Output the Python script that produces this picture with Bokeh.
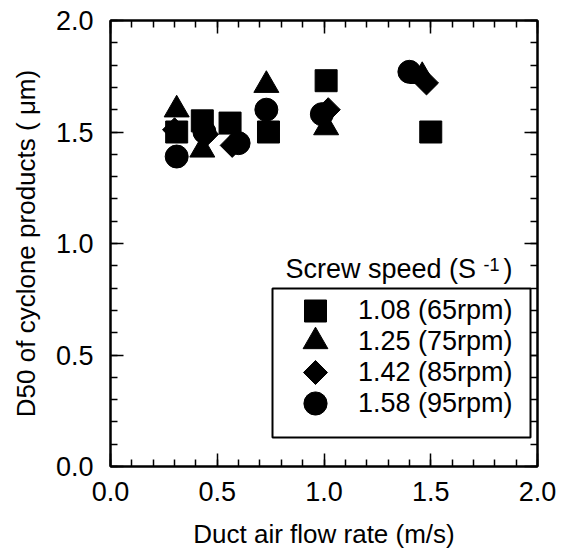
import math
from bokeh.plotting import figure
from bokeh.models import (LinearAxis, SingleIntervalTicker, Range1d, Legend,
                          LegendItem, Label, BoxAnnotation, PrintfTickFormatter)
from bokeh.embed import file_html
from bokeh.resources import INLINE

# ---------------- data ----------------
x_label = "Duct air flow rate (m/s)"
y_label = "D50 of cyclone products ( \u03bcm)"
legend_title = "Screw speed (S"
legend_title_sup = "-1"
legend_title_end = ")"
series_names = ["1.08 (65rpm)", "1.25 (75rpm)", "1.42 (85rpm)", "1.58 (95rpm)"]

sq_x = [0.31, 0.43, 0.56, 0.74, 1.01, 1.50]
sq_y = [1.50, 1.55, 1.54, 1.50, 1.73, 1.50]

tr_x = [0.31, 0.43, 0.73, 1.01, 1.46]
tr_y = [1.60, 1.42, 1.71, 1.52, 1.75]

di_x = [0.30, 0.45, 0.57, 1.02, 1.48]
di_y = [1.51, 1.49, 1.44, 1.60, 1.72]

ci_x = [0.31, 0.44, 0.60, 0.73, 0.99, 1.40]
ci_y = [1.39, 1.50, 1.45, 1.60, 1.58, 1.77]

x_range = (0.0, 2.0)
y_range = (0.0, 2.0)

# ---------------- layout ----------------
FONT = "Liberation Sans"
FW, FH = 427, 446          # frame size in px
FX0, FY1 = 110, 466        # frame left / bottom in page px
SX = FW / (x_range[1] - x_range[0])
SY = FH / (y_range[1] - y_range[0])


def dx(px):
    return x_range[0] + (px - FX0) / SX


def dy(py):
    return y_range[0] + (FY1 - py) / SY


p = figure(frame_width=FW, frame_height=FH,
           x_range=Range1d(*x_range), y_range=Range1d(*y_range),
           output_backend="svg", toolbar_location=None,
           min_border_left=110, min_border_right=25,
           min_border_top=20, min_border_bottom=86,
           x_axis_label=x_label, y_axis_label=y_label)
p.background_fill_color = "white"
p.border_fill_color = "white"
p.outline_line_color = "black"
p.outline_line_width = 2
p.xgrid.visible = False
p.ygrid.visible = False


def style_axis(ax, labels=True):
    ax.ticker = SingleIntervalTicker(interval=0.5, num_minor_ticks=5)
    ax.axis_line_color = "black"
    ax.axis_line_width = 2
    ax.major_tick_in = 13
    ax.major_tick_out = 0
    ax.minor_tick_in = 7
    ax.minor_tick_out = 0
    ax.major_tick_line_width = 1.5
    ax.minor_tick_line_width = 1.5
    ax.major_tick_line_color = "black"
    ax.minor_tick_line_color = "black"
    if labels:
        ax.formatter = PrintfTickFormatter(format="%.1f")
        ax.major_label_text_font = FONT
        ax.major_label_text_font_size = "27px"
        ax.major_label_text_color = "black"
        ax.axis_label_text_font = FONT
        ax.axis_label_text_font_size = "26px"
        ax.axis_label_text_font_style = "normal"
        ax.axis_label_text_color = "black"
    else:
        ax.major_label_text_font_size = "0px"
        ax.major_label_standoff = 0
        ax.major_label_text_color = None


for ax in p.xaxis:
    style_axis(ax)
    ax.major_label_standoff = 15
    ax.axis_label_standoff = 15
for ax in p.yaxis:
    style_axis(ax)
    ax.major_label_standoff = 17
    ax.axis_label_standoff = 12

top_ax = LinearAxis()
style_axis(top_ax, labels=False)
p.add_layout(top_ax, "above")
right_ax = LinearAxis()
style_axis(right_ax, labels=False)
p.add_layout(right_ax, "right")

# ---------------- markers ----------------
r_sq = p.scatter(sq_x, sq_y, marker="square", size=22, color="black")
r_tr = p.scatter(tr_x, tr_y, marker="triangle", size=25, color="black")
r_di = p.scatter(di_x, di_y, marker="square", size=17, angle=math.pi / 4,
                 color="black")
r_ci = p.scatter(ci_x, ci_y, marker="circle", size=23, color="black")

# ---------------- legend ----------------
box = BoxAnnotation(left=dx(272), right=dx(530), top=dy(288), bottom=dy(437),
                    fill_color="white", fill_alpha=1.0,
                    line_color="black", line_alpha=1.0, line_width=2,
                    level="annotation")
p.add_layout(box)

renderers = [r_sq, r_tr, r_di, r_ci]
marker_sizes = [22, 25, 17, 23]
row_centers = [310, 341, 372, 403]     # page px
draw_key = [True, True, False, True]   # rotated key is drawn separately
glyph_cx = 315
label_x0 = 358
for name, rend, ms, rc, dk in zip(series_names, renderers, marker_sizes,
                                  row_centers, draw_key):
    gh = int(round(ms / 0.4)) if dk else 44
    gw = 70 if dk else 0
    lx = (glyph_cx - FX0 - gw / 2) if dk else (label_x0 - FX0 - 8)
    leg = Legend(items=[LegendItem(label=name, renderers=[rend])],
                 location=(lx, (FY1 - rc) - gh / 2),
                 glyph_width=gw, glyph_height=gh,
                 label_standoff=8, padding=0, margin=0,
                 border_line_color=None, background_fill_alpha=0,
                 label_text_font=FONT, label_text_font_size="27px",
                 label_text_color="black")
    p.add_layout(leg)
    if not dk:
        # legend key for the rotated-square series (Bokeh legends ignore angle)
        p.scatter([dx(glyph_cx)], [dy(rc)], marker="square", size=ms,
                  angle=math.pi / 4, color="black", level="overlay")

p.add_layout(Label(x=dx(285), y=dy(268), text=legend_title,
                   text_font=FONT, text_font_size="27px",
                   text_baseline="alphabetic", text_color="black"))
p.add_layout(Label(x=dx(483), y=dy(264), text=legend_title_sup,
                   text_font=FONT, text_font_size="18px",
                   text_baseline="alphabetic", text_color="black"))
p.add_layout(Label(x=dx(503), y=dy(268), text=legend_title_end,
                   text_font=FONT, text_font_size="27px",
                   text_baseline="alphabetic", text_color="black"))

open("out.html", "w").write(file_html(p, INLINE))
